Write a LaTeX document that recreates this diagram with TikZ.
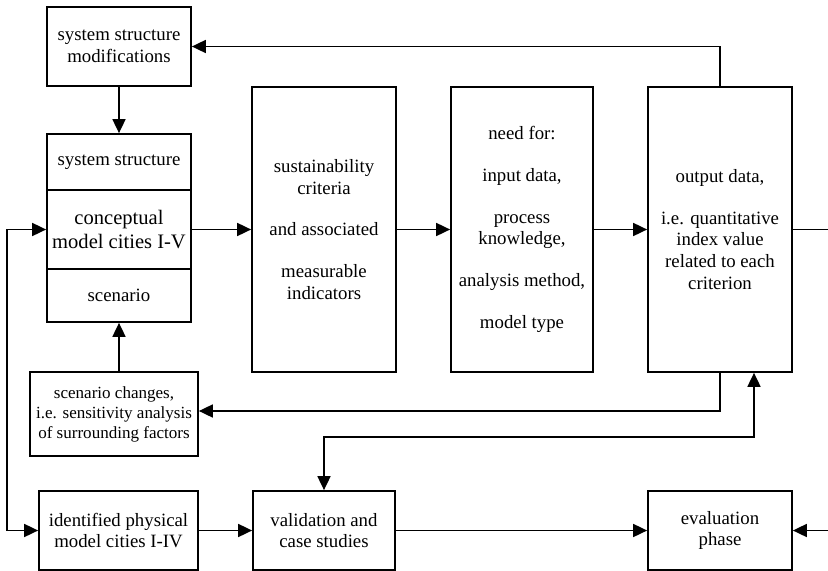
\documentclass[tikz,border=0pt]{standalone}
\usepackage{fontspec}
\setmainfont{Liberation Serif}
\usetikzlibrary{arrows.meta}

\begin{document}
\begin{tikzpicture}[
  x=0.02cm, y=-0.02cm,
  font=\fontsize{10.7}{12.4}\selectfont,
  box/.style={draw, line width=1pt, align=center, inner sep=0pt, minimum width=2.88cm, minimum height=1.58cm},
  tall/.style={box, minimum height=5.7cm},
  arr/.style={-{Triangle[length=0.28cm, width=0.26cm]}, line width=1pt},
  dbl/.style={{Triangle[length=0.28cm, width=0.26cm]}-{Triangle[length=0.28cm, width=0.26cm]}, line width=1pt},
  ln/.style={line width=1pt}
]
\useasboundingbox (0,0) rectangle (828,571);
% left column
\node[box] (ssm) at (119,46.5) {system structure\\modifications};
\node[box, minimum height=1.12cm] (sys) at (119,162) {system structure};
\node[box, font=\fontsize{11.7}{13.6}\selectfont] (concept) at (119,229.5) {conceptual\\model cities I-V};
\node[box, minimum height=1.06cm] (scen) at (119,295.5) {scenario};
\node[box, minimum width=3.36cm, minimum height=1.68cm, font=\fontsize{9.7}{11.4}\selectfont] (chg) at (114,414) {scenario changes,\\i.e. sensitivity analysis\\of surrounding factors};
\node[box, minimum width=3.18cm] (ident) at (118.5,530.5) {identified physical\\model cities I-IV};
% tall boxes
\node[tall] (crit) at (324,229.5) {sustainability\\criteria\\[11.4pt]and associated\\[11.4pt]measurable\\indicators};
\node[tall, minimum width=2.84cm] (need) at (522,229.5) {need for:\\[11.4pt]input data,\\[11.4pt]process\\knowledge,\\[11.4pt]analysis method,\\[11.4pt]model type};
\node[tall] (out) at (720,229.5) {output data,\\[11.4pt]i.e. quantitative\\index value\\related to each\\criterion};
% bottom row
\node[box, minimum width=2.84cm] (valid) at (324,530.5) {validation and\\case studies};
\node[box] (eval) at (720,530.5) {evaluation\\phase};
\coordinate (rout) at (828,229.5);
\coordinate (rin) at (828,530.5);
\coordinate (fb) at (754,437);
\coordinate (lp) at (7,0);
% connectors
\draw[arr] (ssm) -- (sys);
\draw[arr] (concept) -- (crit);
\draw[arr] (crit) -- (need);
\draw[arr] (need) -- (out);
\draw[ln] (out) -- (rout);
\draw[arr] (out.north) |- (ssm.east);
\draw[arr] (out.south) |- ([yshift=0.06cm]chg.east);
\draw[arr] (scen.south |- chg.north) -- (scen.south);
\draw[dbl] (valid.north) |- (fb) -- (fb |- out.south);
\draw[dbl] (concept.west) -- (concept.west -| lp) -- (lp |- ident.west) -- (ident.west);
\draw[arr] (ident) -- (valid);
\draw[arr] (valid) -- (eval);
\draw[arr] (rin) -- (eval);
\end{tikzpicture}
\end{document}
